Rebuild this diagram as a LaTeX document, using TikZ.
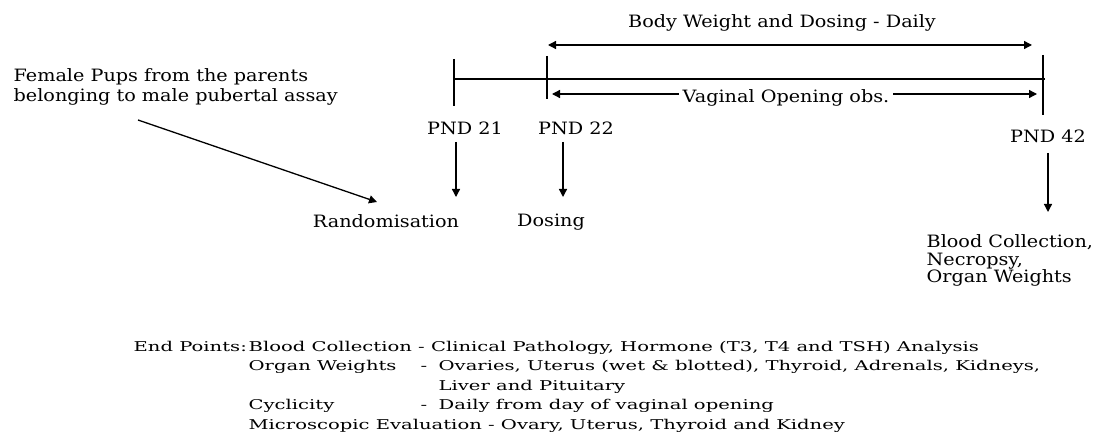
\documentclass[tikz,border=0pt]{standalone}
\usepackage{fontspec}
\setmainfont[FakeStretch=1.13]{DejaVu Serif}
\newfontfamily\botfont[FakeStretch=1.45]{DejaVu Serif}
\usetikzlibrary{arrows.meta,calc}
\begin{document}
\begin{tikzpicture}[x=1pt,y=-1pt,
  line width=1.3pt,
  tip/.style={-{Triangle[width=8pt,length=8pt]}},
  tips/.style={{Triangle[width=8pt,length=8pt]}-{Triangle[width=8pt,length=8pt]}},
  lbl/.style={inner sep=0pt,font=\fontsize{17}{20}\selectfont},
  blk/.style={inner sep=0pt,align=left,font=\fontsize{17}{17.5}\selectfont},
  bot/.style={inner sep=0pt,anchor=base west,font=\botfont\fontsize{13.5}{19.5}\selectfont}]
\useasboundingbox (0,0) rectangle (1094,443);
% left text
\node[blk,anchor=base west,font=\fontsize{17}{20}\selectfont] (pups) at (13,102) {Female Pups from the parents\\belonging to male pubertal assay};
\coordinate (ps) at (138,120);
\node[lbl,anchor=base] (rand) at (386,228) {Randomisation};
\coordinate (re) at (377,202);
\draw[tip] (ps) -- (re);
% ticks
\coordinate (a1) at (454,59); \coordinate (a2) at (454,106);
\coordinate (b1) at (547,56); \coordinate (b2) at (547,99);
\coordinate (c1) at (1043,55); \coordinate (c2) at (1043,115);
\draw (a1) -- (a2);
\draw (b1) -- (b2);
\draw (c1) -- (c2);
\coordinate (m1) at (454,79); \coordinate (m2) at (1045,79);
\draw[line width=1.6pt] (m1) -- (m2);
% top double arrow
\coordinate (t1) at (548,45); \coordinate (t2) at (1032,45);
\draw[tips] (t1) -- (t2);
\node[lbl,anchor=base] (bw) at (782,28) {Body Weight and Dosing - Daily};
% vaginal opening
\coordinate (v1) at (552,94); \coordinate (v2) at (1037,94);
\draw[tips] (v1) -- (v2);
\node[lbl,anchor=base,fill=white,inner xsep=4pt,inner ysep=2pt] (vo) at (786,103) {Vaginal Opening obs.};
% PND labels
\node[lbl,anchor=base] (p21) at (465,135) {PND 21};
\node[lbl,anchor=base] (p22) at (576,135) {PND 22};
\node[lbl,anchor=base] (p42) at (1048,143) {PND 42};
\node[lbl,anchor=base] (dos) at (551,227) {Dosing};
\node[blk,anchor=base west] (blood) at (926,283) {Blood Collection,\\Necropsy,\\Organ Weights};
\coordinate (d1) at (456,142); \coordinate (d1e) at (456,197);
\coordinate (d2) at (563,142); \coordinate (d2e) at (563,197);
\coordinate (d3) at (1048,153); \coordinate (d3e) at (1048,212);
\draw[tip] (d1) -- (d1e);
\draw[tip] (d2) -- (d2e);
\draw[tip] (d3) -- (d3e);
% bottom block
\node[bot] (ep) at (133,351) {End Points:};
\node[bot] (l1) at (248,351) {Blood Collection - Clinical Pathology, Hormone (T3, T4 and TSH) Analysis};
\node[bot] (l2) at (248,370.5) {Organ Weights};
\node[bot] (l2d) at (420,370.5) {-};
\node[bot] (l2t) at (438,370.5) {Ovaries, Uterus (wet \& blotted), Thyroid, Adrenals, Kidneys,};
\node[bot] (l3t) at (438,390) {Liver and Pituitary};
\node[bot] (l4) at (248,409.5) {Cyclicity};
\node[bot] (l4d) at (420,409.5) {-};
\node[bot] (l4t) at (438,409.5) {Daily from day of vaginal opening};
\node[bot] (l5) at (248,429) {Microscopic Evaluation - Ovary, Uterus, Thyroid and Kidney};
\end{tikzpicture}
\end{document}
